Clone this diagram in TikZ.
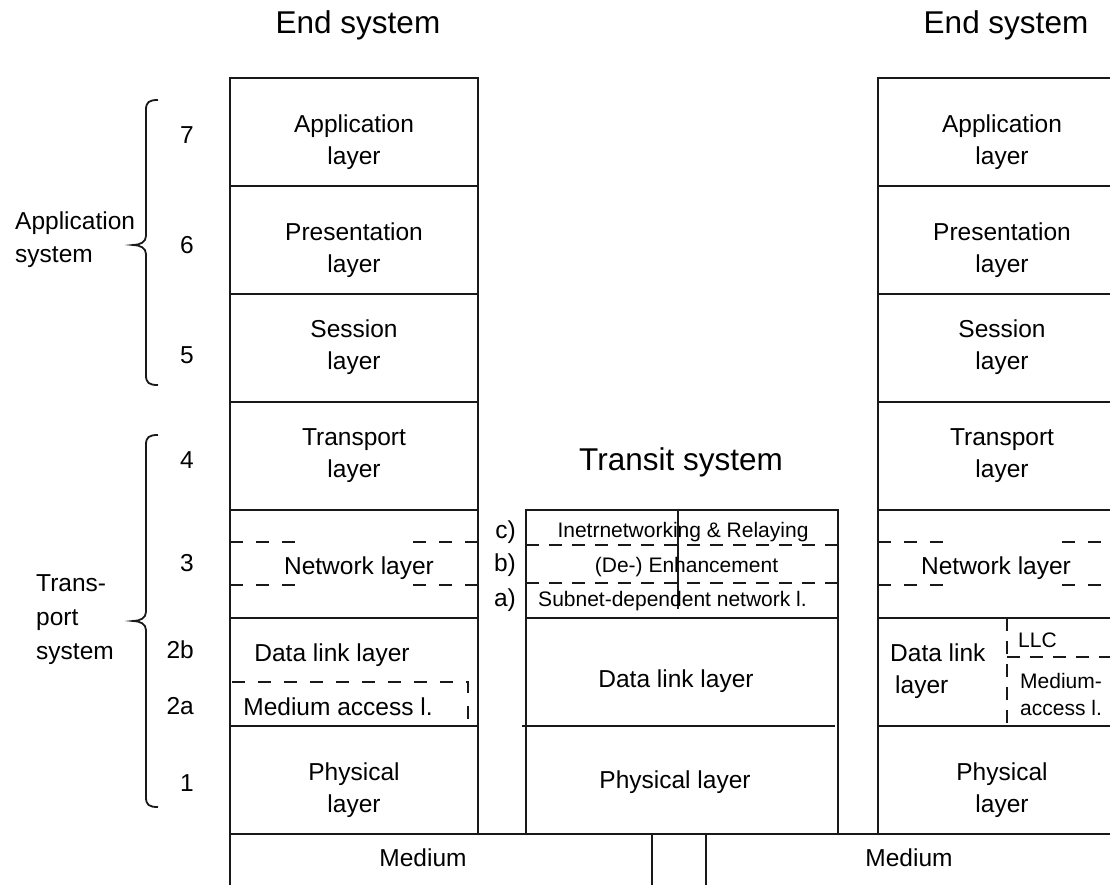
\documentclass[tikz,border=0pt]{standalone}
\usepackage{fontspec}
\setmainfont{Liberation Sans}
\begin{document}
\begin{tikzpicture}[x=1pt,y=-1pt,
  frame/.style={line width=2pt, draw=black!90},
  dsh/.style={line width=1.8pt, draw=black!90, dash pattern=on 13pt off 13pt},
  dshT/.style={line width=1.8pt, draw=black!90, dash pattern=on 13pt off 10pt},
  brc/.style={line width=1.8pt, draw=black!90},
  lay/.style={font=\fontsize{24.5}{32}\selectfont, align=center, inner sep=0pt},
  laysm/.style={font=\fontsize{21}{26}\selectfont, inner sep=0pt},
  ttl/.style={font=\fontsize{31.5}{36}\selectfont, inner sep=0pt},
  num/.style={font=\fontsize{24.5}{32}\selectfont, inner sep=0pt, anchor=east},
]
\useasboundingbox (0,0) rectangle (1110,885);

% ---------- left end system ----------
\draw[frame] (230,885) -- (230,78) -- (478,78) -- (478,834);
\foreach \yy in {186,294,402,510,618,726}
  \draw[frame] (230,\yy) -- (478,\yy);
\draw[dsh] (230,542) -- (295,542);
\draw[dsh] (413,542) -- (478,542);
\draw[dsh] (230,585) -- (295,585);
\draw[dsh] (413,585) -- (478,585);
\draw[dsh] (232,682) -- (468,682) -- (468,726);

% ---------- transit system ----------
\draw[frame] (526,834) -- (526,510) -- (838,510) -- (838,834);
\draw[frame] (526,618) -- (838,618);
\draw[frame] (522,726) -- (835,726);
\draw[dshT] (526,545) -- (838,545);
\draw[dshT] (526,583) -- (838,583);
\draw[line width=1.5pt, draw=black!90] (678,511) -- (678,609);

% ---------- right end system ----------
\draw[frame] (878,834) -- (878,78) -- (1110,78);
\foreach \yy in {186,294,402,510,618,726}
  \draw[frame] (878,\yy) -- (1110,\yy);
\draw[dsh] (878,542) -- (943,542);
\draw[dsh] (1062,542) -- (1110,542);
\draw[dsh] (878,585) -- (943,585);
\draw[dsh] (1062,585) -- (1110,585);
\draw[dshT] (1007,618) -- (1007,726);
\draw[dshT] (1007,657) -- (1110,657);

% ---------- medium ----------
\draw[frame] (230,834) -- (1110,834);
\draw[frame] (652,834) -- (652,885);
\draw[frame] (706,834) -- (706,885);

% ---------- braces ----------
\draw[brc] (158,100) .. controls (149,100) and (146,102) .. (146,110) -- (146,236)
  .. controls (146,242) and (140,245) .. (133,245)
  .. controls (140,245) and (146,248) .. (146,254) -- (146,375)
  .. controls (146,383) and (149,385) .. (158,385);
\draw[brc] (158,435) .. controls (149,435) and (146,437) .. (146,445) -- (146,612)
  .. controls (146,618) and (140,621) .. (133,621)
  .. controls (140,621) and (146,624) .. (146,630) -- (146,797)
  .. controls (146,805) and (149,807) .. (158,807);

% ---------- titles ----------
\node[ttl, anchor=base] (tL) at (358,34) {End system};
\node[ttl, anchor=base] (tR) at (1006,34) {End system};
\node[ttl, anchor=base] (tT) at (681,470) {Transit system};

% ---------- left labels ----------
\node[lay, align=left, anchor=west, font=\fontsize{24.5}{33}\selectfont] (appsys) at (15,240) {Application\\system};
\node[lay, align=left, anchor=west, font=\fontsize{24.5}{34}\selectfont] (trsys) at (36,620) {Trans-\\port\\system};
\node[num] (n7) at (194,135) {7};
\node[num] (n6) at (194,245) {6};
\node[num] (n5) at (194,355) {5};
\node[num] (n4) at (194,460) {4};
\node[num] (n3) at (194,563) {3};
\node[num] (n2b) at (194,650) {2b};
\node[num] (n2a) at (194,706.5) {2a};
\node[num] (n1) at (194,783.5) {1};

% ---------- left layer texts ----------
\node[lay] (appL) at (354,142.5) {Application\\layer};
\node[lay] (preL) at (354,250.5) {Presentation\\layer};
\node[lay] (sesL) at (354,347.5) {Session\\layer};
\node[lay] (traL) at (354,455.5) {Transport\\layer};
\node[lay] (netL) at (359,568.5) {Network layer};
\node[lay] (dllL) at (332,655) {Data link layer};
\node[lay] (macL) at (338,706.5) {Medium access l.};
\node[lay] (phyL) at (354,790.5) {Physical\\layer};

% ---------- transit texts ----------
\node[laysm] (ir) at (683,532) {Inetrnetworking \& Relaying};
\node[laysm] (enh) at (686.5,567) {(De-) Enhancement};
\node[laysm] (sub) at (672.5,601.5) {Subnet-dependent network l.};
\node[lay, anchor=east] (lc) at (516,532) {c)};
\node[lay, anchor=east] (lb) at (516,565) {b)};
\node[lay, anchor=east] (la) at (516,600) {a)};
\node[lay] (dllT) at (676,681) {Data link layer};
\node[lay] (phyT) at (675,782.5) {Physical layer};

% ---------- right layer texts ----------
\node[lay] (appR) at (1002,142.5) {Application\\layer};
\node[lay] (preR) at (1002,250.5) {Presentation\\layer};
\node[lay] (sesR) at (1002,347.5) {Session\\layer};
\node[lay] (traR) at (1002,455.5) {Transport\\layer};
\node[lay] (netR) at (996,568.5) {Network layer};
\node[lay, anchor=west] (dlR1) at (890,652.5) {Data link};
\node[lay, anchor=west] (dlR2) at (895,687.5) {layer};
\node[laysm, anchor=west] (llc) at (1018,640) {LLC};
\node[laysm, anchor=west] (maR1) at (1020,680.5) {Medium-};
\node[laysm, anchor=west] (maR2) at (1020,707.5) {access l.};
\node[lay] (phyR) at (1002,790.5) {Physical\\layer};

% ---------- medium ----------
\node[lay] (medL) at (423,858) {Medium};
\node[lay] (medR) at (909,858) {Medium};
\end{tikzpicture}
\end{document}
